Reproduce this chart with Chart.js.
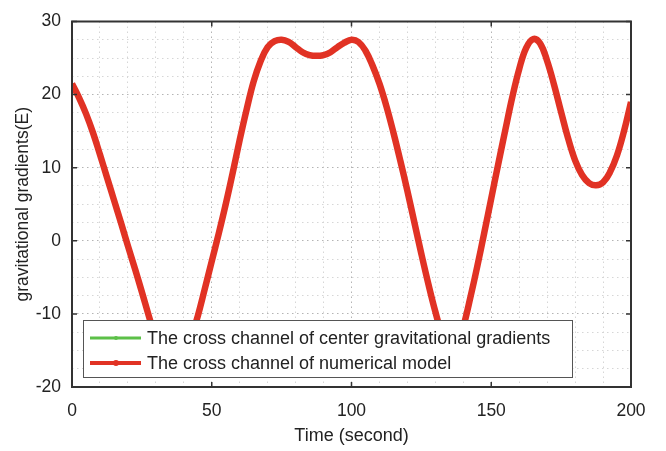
<!DOCTYPE html>
<html>
<head>
<meta charset="utf-8">
<script src="https://cdn.jsdelivr.net/npm/chart.js@4/dist/chart.umd.min.js"></script>
<style>
  html, body { margin: 0; padding: 0; background: #fff; }
  #wrap { width: 666px; height: 451px; }
</style>
</head>
<body>
<div id="wrap"><canvas id="gradChart"></canvas></div>
<script>
// time axis (seconds)
var timeSec = [0, 2.5, 5, 7.5, 10, 12.5, 15, 17.5, 20, 22.5, 25, 27.5, 30, 32.5, 35, 37.5, 40, 42.5, 45, 47.5,
  50, 52.5, 55, 57.5, 60, 62.5, 65, 67.5, 70, 72.5, 75, 77.5, 80, 82.5, 85, 87.5, 90, 92.5, 95, 97.5,
  100, 102.5, 105, 107.5, 110, 112.5, 115, 117.5, 120, 122.5, 125, 127.5, 130, 132.5, 135, 137.5, 140, 142.5, 145, 147.5,
  150, 152.5, 155, 157.5, 160, 162.5, 165, 167.5, 170, 172.5, 175, 177.5, 180, 182.5, 185, 187.5, 190, 192.5, 195, 197.5, 200];

// cross channel, center gravitational gradients (E)
var centerGrad = [21.5, 19.6, 17.4, 14.8, 11.8, 8.7, 5.6, 2.5, -0.7, -3.8, -7.0, -10.3, -13.4, -15.9, -17.3, -17.3, -15.9, -13.4, -10.3, -6.6,
  -2.8, 1.0, 5.0, 9.3, 13.8, 18.0, 21.8, 24.6, 26.5, 27.3, 27.5, 27.2, 26.5, 25.8, 25.4, 25.3, 25.4, 25.8, 26.5, 27.1,
  27.5, 27.2, 26.0, 24.0, 21.5, 18.4, 14.8, 10.9, 6.8, 2.5, -1.8, -5.9, -9.7, -13.0, -15.2, -15.0, -11.8, -7.8, -3.5, 1.1,
  5.8, 10.5, 15.1, 19.6, 23.5, 26.4, 27.6, 27.0, 24.6, 21.3, 17.6, 14.0, 11.0, 9.0, 7.9, 7.6, 8.0, 9.4, 11.7, 15.0, 19.0];

// cross channel, numerical model (E)
var modelGrad = [21.5, 19.6, 17.4, 14.8, 11.8, 8.7, 5.6, 2.5, -0.7, -3.8, -7.0, -10.3, -13.4, -15.9, -17.3, -17.3, -15.9, -13.4, -10.3, -6.6,
  -2.8, 1.0, 5.0, 9.3, 13.8, 18.0, 21.8, 24.6, 26.5, 27.3, 27.5, 27.2, 26.5, 25.8, 25.4, 25.3, 25.4, 25.8, 26.5, 27.1,
  27.5, 27.2, 26.0, 24.0, 21.5, 18.4, 14.8, 10.9, 6.8, 2.5, -1.8, -5.9, -9.7, -13.0, -15.2, -15.0, -11.8, -7.8, -3.5, 1.1,
  5.8, 10.5, 15.1, 19.6, 23.5, 26.4, 27.6, 27.0, 24.6, 21.3, 17.6, 14.0, 11.0, 9.0, 7.9, 7.6, 8.0, 9.4, 11.7, 15.0, 19.0];

var xTicks = [0, 50, 100, 150, 200];
var yTicks = [-20, -10, 0, 10, 20, 30];

var seriesNames = ['The cross channel of center gravitational gradients', 'The cross channel of numerical model'];
var GREEN = '#5cc048';
var RED = '#e13224';
var FRAME = '#333333';
var FONT = '"Liberation Sans", Arial, sans-serif';

function toPoints(xs, ys) {
  return xs.map(function(x, i) { return { x: x, y: ys[i] }; });
}

// box frame with inward major ticks on all four sides
var boxFrame = {
  id: 'boxFrame',
  afterDraw: function(chart) {
    var ctx = chart.ctx, a = chart.chartArea;
    var xs = chart.scales.x, ys = chart.scales.y;
    ctx.save();
    ctx.strokeStyle = FRAME;
    ctx.lineWidth = 1.5;
    ctx.beginPath();
    xTicks.forEach(function(v) {
      var px = xs.getPixelForValue(v);
      ctx.moveTo(px, a.bottom); ctx.lineTo(px, a.bottom - 5);
      ctx.moveTo(px, a.top); ctx.lineTo(px, a.top + 5);
    });
    yTicks.forEach(function(v) {
      var py = ys.getPixelForValue(v);
      ctx.moveTo(a.left, py); ctx.lineTo(a.left + 5, py);
      ctx.moveTo(a.right, py); ctx.lineTo(a.right - 5, py);
    });
    ctx.stroke();
    ctx.lineWidth = 2;
    ctx.strokeRect(a.left, a.top, a.right - a.left, a.bottom - a.top);
    ctx.restore();
  }
};

// legend drawn inside the plot, lower left
var boxLegend = {
  id: 'boxLegend',
  afterDatasetsDraw: function(chart) {
    var ctx = chart.ctx;
    var bx = 83, by = 320, bw = 489, bh = 57;
    ctx.save();
    ctx.fillStyle = '#fff';
    ctx.fillRect(bx, by, bw, bh);
    ctx.strokeStyle = '#555';
    ctx.lineWidth = 1;
    ctx.strokeRect(bx + 0.5, by + 0.5, bw, bh);
    ctx.font = '18px ' + FONT;
    ctx.textBaseline = 'middle';
    chart.data.datasets.forEach(function(ds, i) {
      var cy = by + 18 + i * 25;
      ctx.strokeStyle = ds.borderColor;
      ctx.lineWidth = i === 0 ? 3 : 4;
      ctx.beginPath(); ctx.moveTo(90, cy); ctx.lineTo(141, cy); ctx.stroke();
      ctx.fillStyle = ds.borderColor;
      ctx.beginPath(); ctx.arc(116, cy, i === 0 ? 2 : 3, 0, Math.PI * 2); ctx.fill();
      ctx.fillStyle = '#222';
      ctx.fillText(ds.label, 147, cy + 1);
    });
    ctx.restore();
  }
};

var ctx = document.getElementById('gradChart').getContext('2d');
var chart = new Chart(ctx, {
  type: 'line',
  data: {
    datasets: [{
      label: seriesNames[0],
      data: toPoints(timeSec, centerGrad),
      borderColor: GREEN,
      borderWidth: 3,
      pointRadius: 0,
      tension: 0.4,
      order: 1,
      fill: false
    }, {
      // model sits on top of the measured series
      label: seriesNames[1],
      data: toPoints(timeSec, modelGrad),
      borderColor: RED,
      borderWidth: 6.5,
      pointRadius: 0,
      tension: 0.4,
      order: 0,
      fill: false
    }]
  },
  options: {
    responsive: true,
    maintainAspectRatio: false,
    animation: false,
    events: [],
    layout: { padding: { top: 12, right: 35, left: 0, bottom: 0 } },
    plugins: {
      legend: { display: false },
      tooltip: { enabled: false }
    },
    scales: {
      x: {
        type: 'linear',
        min: 0, max: 200,
        afterFit: function(s) { s.height = 64; },
        ticks: {
          stepSize: 10,
          autoSkip: false,
          maxRotation: 0,
          padding: 14,
          color: '#222',
          font: { family: FONT, size: 17.5 },
          callback: function(v) { return xTicks.indexOf(v) >= 0 ? String(v) : ''; }
        },
        grid: {
          drawTicks: false,
          lineWidth: 1,
          color: function(c) { return c.tick && xTicks.indexOf(c.tick.value) >= 0 ? '#b4b4b4' : '#d6d6d6'; }
        },
        border: { display: false, dash: [1.5, 3.5] },
        title: {
          display: true,
          text: 'Time (second)',
          color: '#222',
          padding: { top: 0, bottom: 4 },
          font: { family: FONT, size: 18 }
        }
      },
      y: {
        min: -20, max: 30,
        afterFit: function(s) { s.width = 72; },
        ticks: {
          stepSize: 2.5,
          autoSkip: false,
          padding: 11,
          color: '#222',
          font: { family: FONT, size: 17.5 },
          callback: function(v) { return yTicks.indexOf(v) >= 0 ? String(v) : ''; }
        },
        grid: {
          drawTicks: false,
          lineWidth: 1,
          color: function(c) { return c.tick && yTicks.indexOf(c.tick.value) >= 0 ? '#b4b4b4' : '#d6d6d6'; }
        },
        border: { display: false, dash: [1.5, 3.5] },
        title: {
          display: true,
          text: 'gravitational gradients(E)',
          color: '#222',
          padding: { top: 13, bottom: 0 },
          font: { family: FONT, size: 17.5 }
        }
      }
    }
  },
  plugins: [boxLegend, boxFrame]
});
</script>
</body>
</html>
